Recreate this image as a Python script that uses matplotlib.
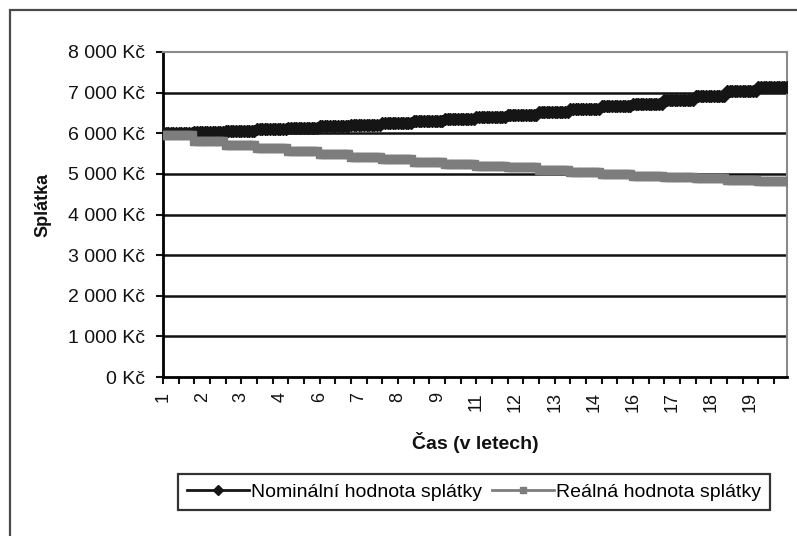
import numpy as np
import matplotlib
matplotlib.use("Agg")
import matplotlib.pyplot as plt
from matplotlib.patches import Rectangle

plt.rcParams['font.family'] = ['Liberation Sans', 'DejaVu Sans']

# yearly payment levels (each year = 12 monthly points)
years = list(range(1, 21))
nominal_yearly = [6000, 6030, 6060, 6100, 6130, 6170, 6210, 6260, 6300, 6350,
                  6400, 6460, 6520, 6590, 6660, 6730, 6820, 6920, 7030, 7150]
real_yearly = [5950, 5810, 5720, 5640, 5560, 5490, 5420, 5360, 5300, 5240,
               5200, 5160, 5100, 5040, 5000, 4950, 4920, 4890, 4860, 4820]
months_per_year = 12

# category labels as Excel shows them (every 15th month)
label_pos = list(range(0, 240, 15))
label_txt = ["1", "2", "3", "4", "6", "7", "8", "9",
             "11", "12", "13", "14", "16", "17", "18", "19"]

yticks = [0, 1000, 2000, 3000, 4000, 5000, 6000, 7000, 8000]
ytick_txt = ["0 Kč", "1 000 Kč", "2 000 Kč", "3 000 Kč", "4 000 Kč",
             "5 000 Kč", "6 000 Kč", "7 000 Kč", "8 000 Kč"]

nominal = np.repeat(nominal_yearly, months_per_year)
real = np.repeat(real_yearly, months_per_year)
x = np.arange(len(nominal))

W, H = 797, 536
fig = plt.figure(figsize=(W / 100, H / 100), dpi=100)
fig.patch.set_facecolor("white")

# outer chart border (cut off on the right and bottom in the scan)
fig.patches.append(Rectangle((10 / W, -0.1), 1.2, (H - 10) / H + 0.1,
                             transform=fig.transFigure, fill=False,
                             edgecolor="#4a4a4a", lw=1.6))

ax = fig.add_axes([163 / W, 1 - 377 / H, 624 / W, 325 / H])

for yv in yticks[1:-1]:
    ax.axhline(yv, color="#111111", lw=1.8, zorder=1)

ax.plot(x, nominal, color="#151515", lw=2, marker="D", ms=6.5,
        label="Nominální hodnota splátky", zorder=3)
ax.plot(x, real, color="#7d7d7d", lw=2, marker="s", ms=5.5,
        label="Reálná hodnota splátky", zorder=4)

ax.set_xlim(0, len(x) - 1)
ax.set_ylim(0, 8000)

ax.set_yticks(yticks)
ax.set_yticklabels(ytick_txt, fontsize=14)
ax.tick_params(axis="y", length=5, width=1.5, pad=8,
               colors="#111111", direction="out")

ax.xaxis.remove_overlapping_locs = False
ax.set_xticks(label_pos)
ax.set_xticklabels(label_txt, rotation=90, va="top", ha="center", fontsize=13)
ax.set_xticks(np.arange(0, len(x), 6), minor=True)
ax.tick_params(axis="x", which="major", length=0, pad=11, colors="#111111")
ax.tick_params(axis="x", which="minor", length=5, width=1.5,
               direction="out", color="#111111")

for side in ["left", "bottom"]:
    ax.spines[side].set_color("#000000")
    ax.spines[side].set_linewidth(2)
for side in ["top", "right"]:
    ax.spines[side].set_color("#8a8a8a")
    ax.spines[side].set_linewidth(1.5)

ax.set_ylabel("Splátka", fontsize=13, fontweight="bold", color="#111111")
ax.yaxis.set_label_coords(-0.178, 0.529)
ax.set_xlabel("Čas (v letech)", fontsize=14, fontweight="bold", color="#111111")
ax.xaxis.set_label_coords(0.5, -0.168)

leg = fig.legend(loc="center", bbox_to_anchor=(474 / W, 1 - 492 / H), ncol=2,
                 fontsize=14, frameon=True, fancybox=False, handlelength=3.2,
                 handletextpad=0.1, columnspacing=0.5, borderpad=0.45,
                 markerscale=0.8)
leg.get_frame().set_edgecolor("#000000")
leg.get_frame().set_linewidth(1.6)

fig.savefig("out.png", dpi=100)
